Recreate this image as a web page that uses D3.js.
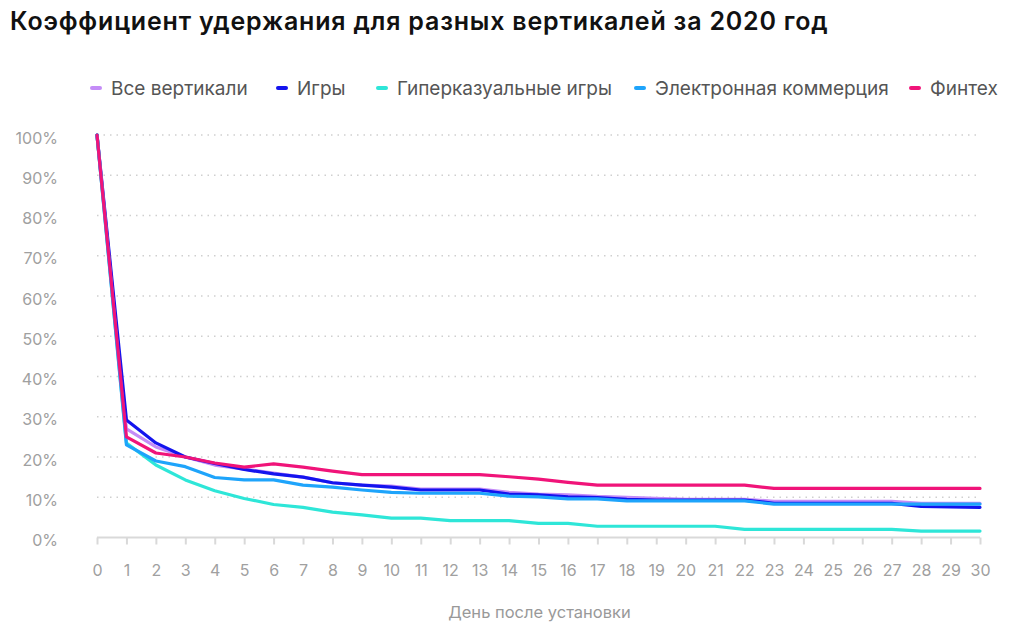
<!DOCTYPE html>
<html><head><meta charset="utf-8">
<script src="https://cdn.jsdelivr.net/npm/d3@7"></script>
<style>body{margin:0;background:#fff}svg{display:block}text{font-family:Inter,"Noto Sans",sans-serif}</style>
</head><body>
<script>
const days = d3.range(0, 31);
const seriesNames = ["Все вертикали","Игры","Гиперказуальные игры","Электронная коммерция","Финтех"];
const colors = ["#c48cf7","#1414ee","#2ee6d8","#1ea4fb","#f01479"];
const allVerticals = [100,27,22.5,20,18,17,16,15,13.6,13,12.8,12,12,12,11.2,10.8,10.6,10.2,10,9.7,9.5,9.5,9.5,9,9,9,9,9,8.5,8.5,8.5];
const games = [100,29.2,23.5,20,18.4,16.9,15.8,15,13.6,13,12.5,11.8,11.8,11.8,10.8,10.6,10.1,9.9,9.5,9.3,9.3,9.3,9.3,8.5,8.5,8.5,8.5,8.5,7.7,7.6,7.5];
const hyper = [100,23.5,18,14.3,11.6,9.7,8.2,7.5,6.3,5.6,4.8,4.8,4.2,4.2,4.2,3.5,3.5,2.8,2.8,2.8,2.8,2.8,2,2,2,2,2,2,1.6,1.6,1.6];
const ecommerce = [100,23,19,17.6,14.9,14.3,14.3,13,12.5,11.8,11.2,11,11,11,10.3,10.1,9.6,9.6,9.1,9.1,9.1,9.1,9.1,8.3,8.3,8.3,8.3,8.3,8.3,8.3,8.3];
const fintech = [100,25,21,20,18.5,17.5,18.3,17.5,16.5,15.6,15.6,15.6,15.6,15.6,15.1,14.5,13.7,13,13,13,13,13,13,12.2,12.2,12.2,12.2,12.2,12.2,12.2,12.2];
const yTicks = [0,10,20,30,40,50,60,70,80,90,100];
const title = "Коэффициент удержания для разных вертикалей за 2020 год";
const xTitle = "День после установки";

const seriesValues = [allVerticals, games, hyper, ecommerce, fintech];
const W = 1024, H = 629;
const svg = d3.select("body").append("svg").attr("width", W).attr("height", H);

const x = d3.scaleLinear().domain([0, 30]).range([97, 980]);
const y = d3.scaleLinear().domain([0, 100]).range([537.5, 135]);

svg.append("text").attr("x", 10).attr("y", 30).text(title)
  .attr("font-size", 25).attr("font-weight", 600).attr("fill", "#111")
  .attr("letter-spacing", 0.8);

// gridlines
const grid = svg.append("g");
grid.selectAll("line").data(yTicks.filter(d => d > 0)).join("line")
  .attr("x1", x(0)).attr("x2", x(30))
  .attr("y1", d => y(d)).attr("y2", d => y(d))
  .attr("stroke", "#cfcfcf").attr("stroke-width", 1.5)
  .attr("stroke-dasharray", "1.5,5");

// y labels
const yAxis = d3.axisLeft(y).tickValues(yTicks).tickFormat(d => d + "%").tickSize(0).tickPadding(0);
const gy = svg.append("g").attr("transform", "translate(58,3)").call(yAxis);
gy.select(".domain").remove();
gy.selectAll("text").attr("font-size", 16).attr("fill", "#a0a0a0").attr("font-family", "Inter, sans-serif");

// x axis
const xAxis = d3.axisBottom(x).tickValues(days).tickSize(7).tickPadding(20);
const gx = svg.append("g").attr("transform", `translate(0,${y(0)})`).call(xAxis);
gx.select(".domain").attr("stroke", "#d9d9d9").attr("stroke-width", 2).attr("d", `M${x(0)},0H${x(30)}`);
gx.selectAll(".tick line").attr("stroke", "#d9d9d9").attr("stroke-width", 2);
gx.selectAll("text").attr("font-size", 16).attr("fill", "#a0a0a0").attr("font-family", "Inter, sans-serif");

svg.append("text").attr("x", (x(0) + x(30)) / 2 + 1).attr("y", 618).attr("text-anchor", "middle")
  .text(xTitle).attr("font-size", 16.5).attr("fill", "#999");

// lines
const line = d3.line().x((d, i) => x(days[i])).y(d => y(d));
seriesValues.forEach((vals, k) => {
  svg.append("path").datum(vals).attr("d", line)
    .attr("fill", "none").attr("stroke", colors[k]).attr("stroke-width", 3.2)
    .attr("stroke-linejoin", "round").attr("stroke-linecap", "round");
});

// legend
const legendX = [90, 276, 376, 634, 909];
const lg = svg.append("g");
seriesNames.forEach((n, k) => {
  const g = lg.append("g").attr("transform", `translate(${legendX[k]},88)`);
  g.append("line").attr("x1", 2).attr("x2", 10).attr("y1", 0).attr("y2", 0)
    .attr("stroke", colors[k]).attr("stroke-width", 4).attr("stroke-linecap", "round");
  g.append("text").attr("x", 21).attr("y", 7).text(n).attr("font-size", 19).attr("fill", "#555");
});
</script>
</body></html>
